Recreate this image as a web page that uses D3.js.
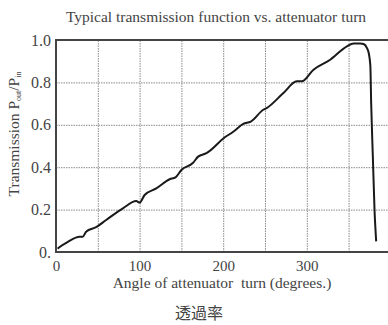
<!DOCTYPE html>
<html>
<head>
<meta charset="utf-8">
<script src="https://cdn.jsdelivr.net/npm/d3@7"></script>
<style>
	body { margin: 0; background: #fff; }
	svg text { font-family: "Liberation Serif", "DejaVu Serif", serif; fill: #444; }
	.grid line { stroke: #8a8a8a; stroke-width: 1px; stroke-dasharray: 1.5 1; }
</style>
</head>
<body>
<div id="chart"></div>
<script>
// angle of attenuator turn (degrees)
const angles = [2, 4, 15, 28, 32, 36, 48, 60, 80, 96, 100, 106, 120, 136, 143, 150, 164, 170, 180,
	202, 212, 224, 233, 248, 252, 272, 288, 294, 308, 328, 348, 356, 364, 368, 372, 374, 376, 377, 379, 381, 383];
// transmission P_out/P_in
const transmission = [0.015, 0.022, 0.05, 0.072, 0.072, 0.096, 0.117, 0.151, 0.206, 0.24, 0.233, 0.269, 0.30, 0.343, 0.352, 0.387, 0.421, 0.45, 0.466,
	0.541, 0.567, 0.604, 0.615, 0.671, 0.679, 0.75, 0.805, 0.805, 0.86, 0.907, 0.97, 0.983, 0.984, 0.981, 0.962, 0.94, 0.88, 0.70, 0.45, 0.20, 0.05];
const xTicks = [0, 100, 200, 300];
const yTicks = [0, 0.2, 0.4, 0.6, 0.8, 1.0];
const yTickLabels = ['0.', '0.2', '0.4', '0.6', '0.8', '1.0'];
const xGrid = [50, 100, 150, 200, 250, 300, 350];
const yGrid = [0.2, 0.4, 0.6, 0.8];

const widthSvg = 388;
const heightSvg = 325;

const xScale = d3.scaleLinear().domain([0, 400]).range([56, 390.4]);
const yScale = d3.scaleLinear().domain([0, 1]).range([252, 40]);

const svg = d3.select('#chart').append('svg')
	.attr('width', widthSvg)
	.attr('height', heightSvg);

// grid, drawn with the axis generators as full-length ticks
const xGridAxis = d3.axisBottom(xScale).tickValues(xGrid)
	.tickSize(-(yScale(0) - yScale(1))).tickFormat('');
const yGridAxis = d3.axisLeft(yScale).tickValues(yGrid)
	.tickSize(-(xScale(400) - xScale(0))).tickFormat('');

const gxGrid = svg.append('g')
	.attr('class', 'grid')
	.attr('transform', `translate(0, ${yScale(0)})`)
	.call(xGridAxis);
const gyGrid = svg.append('g')
	.attr('class', 'grid')
	.attr('transform', `translate(${xScale(0)}, 0)`)
	.call(yGridAxis);
gxGrid.select('.domain').remove();
gyGrid.select('.domain').remove();

// axes (labels only, no tick marks)
const xAxis = d3.axisBottom(xScale).tickValues(xTicks).tickSize(0).tickPadding(8);
const yAxis = d3.axisLeft(yScale).tickValues(yTicks).tickSize(0).tickPadding(5)
	.tickFormat((d, i) => yTickLabels[i]);

const gx = svg.append('g')
	.attr('transform', `translate(0, ${yScale(0)})`)
	.call(xAxis);
gx.select('.domain').remove();
gx.selectAll('text')
	.style('font-family', '"Liberation Serif", serif')
	.style('font-size', '15px')
	.attr('fill', '#444');

const gy = svg.append('g')
	.attr('transform', `translate(${xScale(0)}, 0)`)
	.call(yAxis);
gy.select('.domain').remove();
gy.selectAll('text')
	.style('font-family', '"Liberation Serif", serif')
	.style('font-size', '16px')
	.attr('fill', '#444');

// frame
svg.append('path')
	.attr('d', `M${xScale(400)},${yScale(1)}H${xScale(0)}V${yScale(0)}H${xScale(400)}`)
	.attr('fill', 'none')
	.attr('stroke', '#444')
	.attr('stroke-width', 2);

// curve
const points = angles.map((a, i) => [a, transmission[i]]);
const line = d3.line()
	.x(d => xScale(d[0]))
	.y(d => yScale(d[1]))
	.curve(d3.curveMonotoneX);

svg.append('path')
	.datum(points)
	.attr('d', line)
	.attr('fill', 'none')
	.attr('stroke', '#1a1a1a')
	.attr('stroke-width', 2);

// titles
svg.append('text')
	.attr('x', 216).attr('y', 22)
	.attr('text-anchor', 'middle')
	.style('font-size', '15.5px')
	.text('Typical transmission function vs. attenuator turn');

svg.append('text')
	.attr('x', 222).attr('y', 288)
	.attr('text-anchor', 'middle')
	.style('font-size', '15.5px')
	.style('white-space', 'pre')
	.text('Angle of attenuator  turn (degrees.)');

const yLabel = svg.append('text')
	.attr('transform', 'translate(19, 134) rotate(-90)')
	.attr('text-anchor', 'middle')
	.style('font-size', '15.5px');
yLabel.append('tspan').text('Transmission  P');
yLabel.append('tspan').attr('baseline-shift', '-25%').style('font-size', '8px').text('out');
yLabel.append('tspan').text('/P');
yLabel.append('tspan').attr('baseline-shift', '-25%').style('font-size', '8px').text('in');

svg.append('text')
	.attr('x', 199).attr('y', 319)
	.attr('text-anchor', 'middle')
	.style('font-family', '"Noto Sans CJK JP", sans-serif')
	.style('font-size', '16px')
	.attr('fill', '#222')
	.text('透過率');
</script>
</body>
</html>
